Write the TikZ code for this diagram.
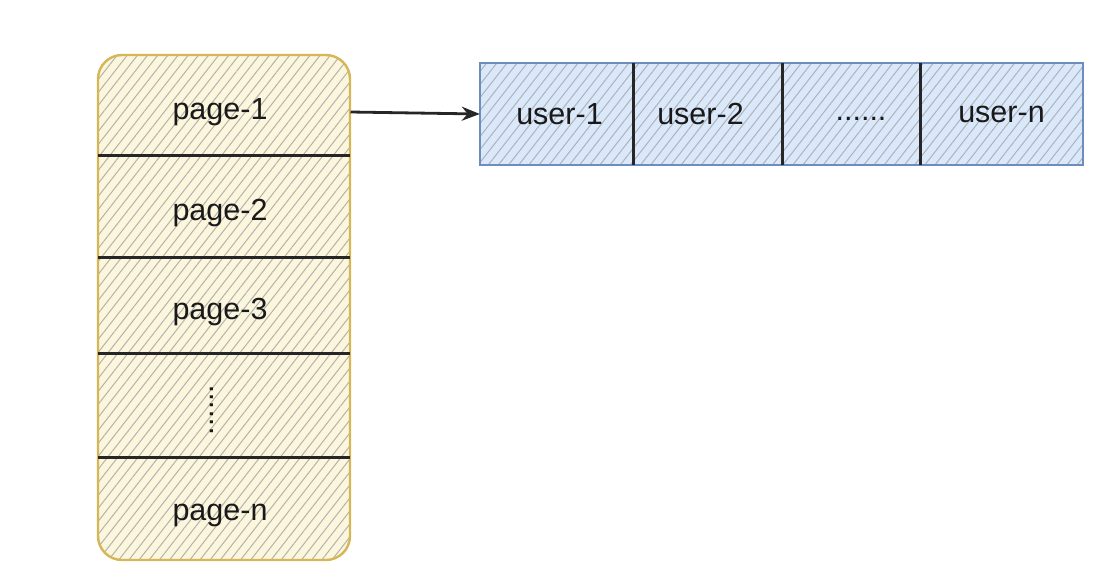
\documentclass[tikz,border=0pt]{standalone}
\usepackage{fontspec}
\setmainfont{Liberation Sans}
\usetikzlibrary{patterns.meta,arrows.meta,calc}
\definecolor{yfill}{HTML}{FBF6DC}
\definecolor{ydraw}{HTML}{D6B656}
\definecolor{bfill}{HTML}{DAE8FC}
\definecolor{bdraw}{HTML}{6C8EBF}
\tikzset{
  hatch/.style={pattern={Lines[angle=52,distance=8pt,line width=1pt]},pattern color=#1},
  lbl/.style={font=\fontsize{30.5}{36}\selectfont,text=black!90,inner sep=0pt},
  divider/.style={draw=black!85,line width=2.8pt},
  hdivider/.style={draw=black!85,line width=3.4pt},
  cell/.style={minimum height=102pt,inner sep=0pt}
}
\begin{document}
\begin{tikzpicture}[x=1pt,y=-1pt]
\useasboundingbox (0,0) rectangle (1116,582);
% left box
\node[draw=ydraw,line width=2.4pt,rounded corners=24pt,minimum width=252pt,minimum height=505pt,
      preaction={fill=yfill},hatch=black!30] (pages) at (224,307.5) {};
% right box
\node[draw=bdraw,line width=2.4pt,minimum width=603pt,minimum height=102pt,
      preaction={fill=bfill},hatch=black!30] (users) at (781.5,114) {};
% page labels
\node[lbl] (p1) at (220,112) {page-1};
\node[lbl] (p2) at (220,213) {page-2};
\node[lbl] (p3) at (220,312) {page-3};
\node[font=\fontsize{30.5}{36}\selectfont,rotate=90,text=black!90,inner sep=0pt] (pd) at (212,410) {......};
\node[lbl] (pn) at (220,515) {page-n};
% page dividers
\foreach \y in {155.5,257.5,353.5,457.5}
  \draw[hdivider] (98,\y) -- (350,\y);
% user cells
\node[cell,minimum width=153pt] (u1) at (556.5,114) {};
\node[cell,minimum width=149pt] (u2) at (707.5,114) {};
\node[cell,minimum width=138pt] (ud) at (851,114) {};
\node[cell,minimum width=163pt] (un) at (1001.5,114) {};
\node[lbl] at ($(u1)+(3,0)$) {user-1};
\node[lbl] at ($(u2)+(-7,0)$) {user-2};
\node[lbl] at ($(ud)+(10,5)$) {......};
\node[lbl] at (un) {user-n};
\draw[divider] (u1.north east) -- (u1.south east);
\draw[divider] (u2.north east) -- (u2.south east);
\draw[divider] (ud.north east) -- (ud.south east);
% arrow
\draw[line width=2.8pt,black!85,-{Stealth[open,length=18pt,width=14pt]}] (pages.east |- p1) -- (u1.west);
\end{tikzpicture}
\end{document}
